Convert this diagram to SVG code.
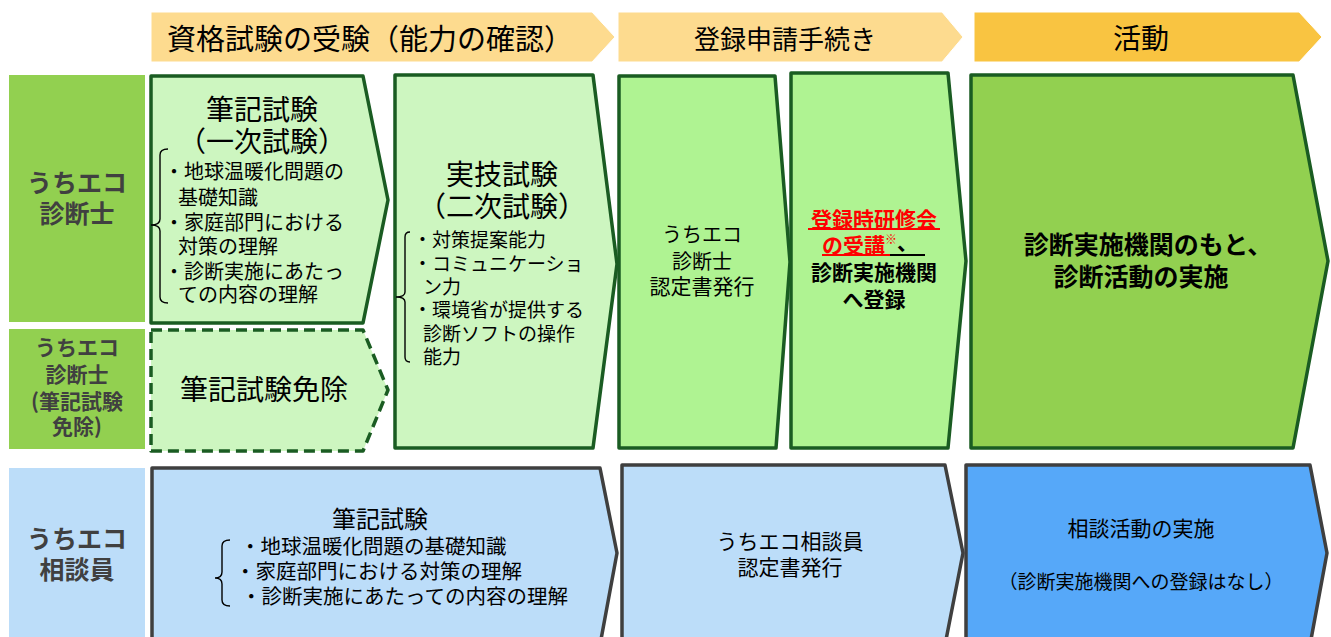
<svg xmlns="http://www.w3.org/2000/svg" width="1331" height="637" viewBox="0 0 1331 637">
<style>
text{font-family:"Noto Sans CJK JP","Noto Sans",sans-serif;fill:#000;}
.c{text-anchor:middle;dominant-baseline:central;}
.l{dominant-baseline:central;}
.b{font-weight:bold;}
.lab{font-weight:bold;fill:#404040;}
.hdr{stroke:#fff;stroke-width:1;}
.g1{fill:#CDF6C0;stroke:#1A5C22;stroke-width:3.5;stroke-linejoin:round;}
.g2{fill:#AFF392;stroke:#1A5C22;stroke-width:3.5;stroke-linejoin:round;}
.g3{fill:#92D050;stroke:#1A5C22;stroke-width:3.5;stroke-linejoin:round;}
.bl1{fill:#BCDDF9;stroke:#3F3F3F;stroke-width:3.5;stroke-linejoin:round;}
.bl2{fill:#56A8F9;stroke:#3F3F3F;stroke-width:3.5;stroke-linejoin:round;}
.br{fill:none;stroke:#000;stroke-width:1.4;}
</style>
<rect width="1331" height="637" fill="#fff"/>

<g id="header-exam">
<polygon class="hdr" points="151,12 592,12 615,37 592,62 151,62" fill="#FDDB8F"/>
<text class="c" x="370" y="37" font-size="29">資格試験の受験（能力の確認）</text>
</g>
<g id="header-registration">
<polygon class="hdr" points="618,12 942,12 963,37 942,62 618,62" fill="#FDDB8F"/>
<text class="c" x="785" y="37" font-size="26">登録申請手続き</text>
</g>
<g id="header-activity">
<polygon class="hdr" points="974,12 1299,12 1322,37 1299,62 974,62" fill="#F9C441"/>
<text class="c" x="1141" y="37" font-size="28">活動</text>
</g>

<g id="label-shindanshi">
<rect x="9" y="75" width="136" height="247" fill="#92D050"/>
<text class="c lab" x="77" y="181" font-size="25">うちエコ</text>
<text class="c lab" x="77" y="212" font-size="25">診断士</text>
</g>
<g id="label-shindanshi-exempt">
<rect x="9" y="329" width="136" height="120" fill="#92D050"/>
<text class="c lab" x="77" y="346" font-size="21">うちエコ</text>
<text class="c lab" x="77" y="373" font-size="21">診断士</text>
<text class="c lab" x="77" y="400" font-size="21">(筆記試験</text>
<text class="c lab" x="77" y="425" font-size="21">免除)</text>
</g>
<g id="label-soudanin">
<rect x="9" y="468" width="136" height="172" fill="#BCDDF9"/>
<text class="c lab" x="77" y="537" font-size="25">うちエコ</text>
<text class="c lab" x="77" y="568" font-size="25">相談員</text>
</g>

<g id="written-exam">
<polygon class="g1" points="151,76 363,76 388,200 363,323 151,323"/>
<text class="c" x="262" y="108" font-size="28">筆記試験</text>
<text class="c" x="262" y="140" font-size="28">（一次試験）</text>
<path class="br" d="M168,149 Q160,149 160,155 L160,219 Q160,225 151,225 Q160,225 160,231 L160,297 Q160,303 168,303"/>
<text class="l" x="164" y="170" font-size="20">・地球温暖化問題の</text>
<text class="l" x="178" y="196" font-size="20">基礎知識</text>
<text class="l" x="164" y="221" font-size="20">・家庭部門における</text>
<text class="l" x="178" y="245" font-size="20">対策の理解</text>
<text class="l" x="164" y="270" font-size="20">・診断実施にあたっ</text>
<text class="l" x="178" y="293" font-size="20">ての内容の理解</text>
</g>

<g id="written-exam-exempt">
<polygon class="g1" points="151,330 363,330 388,390 363,451 151,451" stroke-dasharray="11,6"/>
<text class="c" x="264" y="388" font-size="28">筆記試験免除</text>
</g>

<g id="practical-exam">
<polygon class="g1" points="395,75 593,75 617,264 593,448 395,448"/>
<text class="c" x="502" y="173" font-size="28">実技試験</text>
<text class="c" x="502" y="205" font-size="28">（二次試験）</text>
<path class="br" d="M410,232 Q405,232 405,237 L405,292 Q405,297 396,297 Q405,297 405,302 L405,357 Q405,362 410,362"/>
<text class="l" x="413" y="238" font-size="19">・対策提案能力</text>
<text class="l" x="413" y="262" font-size="19">・コミュニケーショ</text>
<text class="l" x="423" y="285" font-size="19">ン力</text>
<text class="l" x="413" y="308" font-size="19">・環境省が提供する</text>
<text class="l" x="423" y="332" font-size="19">診断ソフトの操作</text>
<text class="l" x="423" y="355" font-size="19">能力</text>
</g>

<g id="certificate-shindanshi">
<polygon class="g2" points="619,76 775,76 790,262 776,448 619,448"/>
<text class="c" x="702" y="233" font-size="20">うちエコ</text>
<text class="c" x="702" y="260" font-size="20">診断士</text>
<text class="c" x="702" y="285" font-size="21">認定書発行</text>
</g>

<g id="training-registration">
<polygon class="g2" points="791,73 948,73 966,261 948,448 791,448"/>
<text class="c b" x="874" y="218" font-size="21" style="fill:#FF0000">登録時研修会</text>
<line x1="808" y1="229" x2="940" y2="229" stroke="#FF0000" stroke-width="2"/>
<text class="l b" x="822" y="244" font-size="21"><tspan style="fill:#FF0000">の受講</tspan><tspan style="fill:#FF0000;font-weight:normal" font-size="12" dy="-6">※</tspan><tspan dy="3">、</tspan></text>
<line x1="822" y1="255" x2="890" y2="255" stroke="#FF0000" stroke-width="2"/>
<line x1="890" y1="255" x2="925" y2="255" stroke="#000" stroke-width="2"/>
<text class="c b" x="874" y="271" font-size="21">診断実施機関</text>
<text class="c b" x="874" y="298" font-size="21">へ登録</text>
</g>

<g id="activity-shindan">
<polygon class="g3" points="971,75 1293,75 1328,261 1293,448 971,448"/>
<text class="c b" x="1148" y="243" font-size="25">診断実施機関のもと、</text>
<text class="c b" x="1141" y="275" font-size="25">診断活動の実施</text>
</g>

<g id="written-exam-soudanin">
<polygon class="bl1" points="152,468 600,468 617,553 600,645 152,645"/>
<text class="c" x="380" y="517" font-size="24">筆記試験</text>
<path class="br" d="M230,540 Q222,540 222,546 L222,572 Q222,578 215,578 Q222,578 222,584 L222,600 Q222,606 230,606"/>
<text class="l" x="240" y="545" font-size="20.5">・地球温暖化問題の基礎知識</text>
<text class="l" x="235" y="570" font-size="20.5">・家庭部門における対策の理解</text>
<text class="l" x="241" y="595" font-size="20.5">・診断実施にあたっての内容の理解</text>
</g>

<g id="certificate-soudanin">
<polygon class="bl1" points="622,465 945,465 963,553 945,645 622,645"/>
<text class="c" x="790" y="540" font-size="21">うちエコ相談員</text>
<text class="c" x="790" y="566" font-size="21">認定書発行</text>
</g>

<g id="activity-soudan">
<polygon class="bl2" points="966,465 1310,465 1327,553 1310,645 966,645"/>
<text class="c" x="1141" y="527" font-size="21">相談活動の実施</text>
<text class="c" x="1141" y="580" font-size="19">（診断実施機関への登録はなし）</text>
</g>

<g id="connectors"></g>
</svg>
